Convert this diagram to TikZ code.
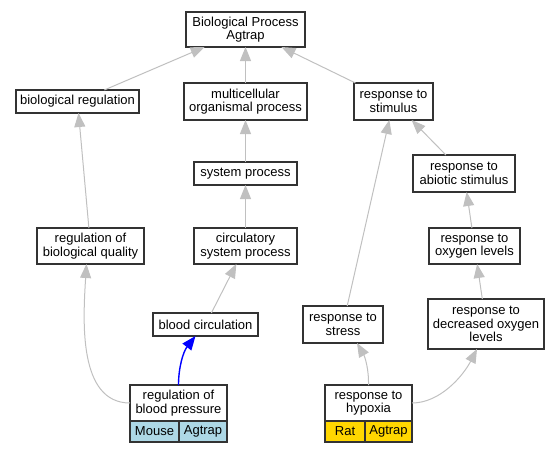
\documentclass[tikz,border=0pt]{standalone}
\usepackage{fontspec}
\setmainfont{Liberation Sans}
\usetikzlibrary{positioning,arrows.meta}
\definecolor{edgegray}{RGB}{192,192,192}
\definecolor{mouseblue}{RGB}{173,216,230}
\definecolor{ratgold}{RGB}{255,215,0}

\begin{document}
\begin{tikzpicture}[x=1pt, y=-1pt]
      \tikzstyle{term}=[rectangle, draw=black!80, line width=1.2pt, fill=white, align=center, inner sep=0pt, outer sep=0pt, font=\fontsize{13}{13.3}\selectfont]
      \tikzstyle{cell}=[term, minimum height=21pt, anchor=north west]
      \tikzstyle{connect}=[-{Triangle[length=14pt, width=11pt]}, draw=edgegray, line width=1pt]
      \tikzstyle{hit}=[-{Triangle[length=14pt, width=11pt]}, draw=blue, line width=1.4pt]

      \useasboundingbox (0,0) rectangle (559,453);

      % top levels
      \node[term, minimum width=119pt, minimum height=35pt] (root) at (245.5,29.5) {Biological Process\\Agtrap};
      \node[term, minimum width=123pt, minimum height=23pt] (bioreg) at (77.5,101.5) {biological regulation};
      \node[term, minimum width=123pt, minimum height=37pt] (multi) [below=36pt of root] {multicellular\\organismal process};
      \node[term, minimum width=79pt, minimum height=37pt] (stim) at (393.5,101.5) {response to\\stimulus};
      \node[term, minimum width=103pt, minimum height=23pt] (sysproc) [below=42pt of multi] {system process};
      \node[term, minimum width=102pt, minimum height=37pt] (abiotic) at (464,173.5) {response to\\abiotic stimulus};

      % middle levels
      \node[term, minimum width=107pt, minimum height=36pt] (regqual) at (90.5,246) {regulation of\\biological quality};
      \node[term, minimum width=103pt, minimum height=36pt] (circ) [below=43pt of sysproc] {circulatory\\system process};
      \node[term, minimum width=91pt, minimum height=36pt] (oxy) at (474.5,246) {response to\\oxygen levels};
      \node[term, minimum width=105pt, minimum height=23pt] (bloodcirc) at (205.5,324.5) {blood circulation};
      \node[term, minimum width=80pt, minimum height=37pt] (stress) at (343,324.5) {response to\\stress};
      \node[term, minimum width=116pt, minimum height=50pt] (decox) at (486,324) {response to\\decreased oxygen\\levels};

      % annotated terms
      \node[term, minimum width=97pt, minimum height=36pt] (regbp) at (178.5,403) {regulation of\\blood pressure};
      \node[cell, fill=mouseblue, minimum width=49pt] (regbpsp) at (regbp.south west) {Mouse};
      \node[cell, fill=mouseblue, minimum width=48pt] (regbpgene) at (regbpsp.north east) {Agtrap};
      \node[term, minimum width=87pt, minimum height=36pt] (hypoxia) at (368.5,403) {response to\\hypoxia};
      \node[cell, fill=ratgold, minimum width=40pt] (hypoxiasp) at (hypoxia.south west) {Rat};
      \node[cell, fill=ratgold, minimum width=47pt] (hypoxiagene) at (hypoxiasp.north east) {Agtrap};

      \path (bioreg) edge [connect] (root)
        (multi) edge [connect] (root)
        (stim) edge [connect] (root);

      \path (sysproc) edge [connect] (multi)
        (circ) edge [connect] (sysproc)
        (bloodcirc) edge [connect] (circ)
        (regqual) edge [connect] (bioreg);

      \path (stress) edge [connect] (stim)
        (abiotic) edge [connect] (stim)
        (oxy) edge [connect] (abiotic)
        (decox) edge [connect] (oxy);

      \draw[connect] (regbp.west) .. controls (78,403) and (83,320) .. ([xshift=-4pt]regqual.south);
      \draw[hit] (regbp.north) .. controls (178.5,368) and (183,352) .. ([xshift=-10pt]bloodcirc.south);
      \draw[connect] (hypoxia.north) .. controls (369,370) and (365,357) .. ([xshift=14pt]stress.south);
      \draw[connect] (hypoxia.east) .. controls (440,403) and (463,376) .. ([xshift=-9pt]decox.south);

    \end{tikzpicture}
\end{document}
